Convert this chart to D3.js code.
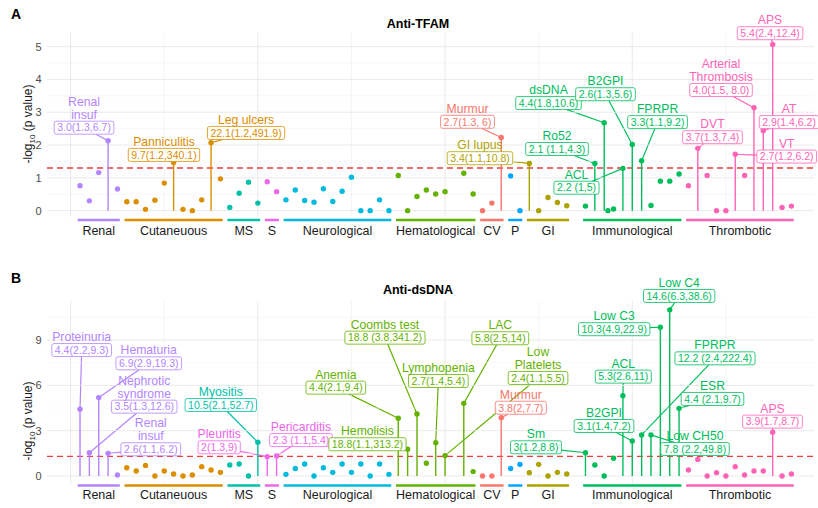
<!DOCTYPE html>
<html>
<head>
<meta charset="utf-8">
<script src="https://cdn.jsdelivr.net/npm/d3@7"></script>
<style>
body { margin: 0; background: #fff; }
svg { font-family: 'Liberation Sans', Arial, sans-serif; display: block; }
</style>
</head>
<body>
<svg></svg>
<script>
// categories along the x axis (index ranges of the variables in each group)
const categories = ['Renal', 'Cutaneuous', 'MS', 'S', 'Neurological', 'Hematological', 'CV', 'P', 'GI', 'Immunological', 'Thrombotic'];
const categoryFirst = [1, 6, 17, 21, 23, 35, 44, 47, 49, 55, 66];
const categoryLast = [5, 16, 20, 22, 34, 43, 46, 48, 53, 65, 77];
const categoryColors = ['#B385FF', '#DB8E00', '#00C1A7', '#EF67EB', '#00BADE', '#64B200', '#F8766D', '#00A6FF', '#AEA200', '#00BD5C', '#FF63B6'];

// -log10(p) for variables 1..77 (null = not tested)
const tfamValues = [
	0.76, 0.30, 1.16, 2.13, 0.66,
	0.27, 0.27, 0.04, 0.32, 0.84, 1.47, 0.04, 0.00, 0.33, 2.07, 0.97,
	0.10, 0.53, 0.87, 0.23,
	0.88, 0.58,
	0.33, 0.63, 0.31, 0.26, 0.67, 0.28, 0.59, 1.02, 0.00, 0.00, 0.33, 0.00,
	1.07, 0.00, 0.43, 0.63, 0.51, 0.58, null, 1.14, 0.51,
	0.00, 0.23, 2.23,
	1.06, 0.00,
	1.44, 0.00, 0.40, 0.25, 0.15,
	null,
	0.14, 1.44, 2.68, 0.05, 1.29, 2.02, 1.52, 0.16, 0.90, 0.90, 1.12,
	0.76, 1.90, 1.07, 0.00, 0.00, 1.72, 1.07, 3.14, 2.44, 5.07, 0.10, 0.14
];
const tfamExtraPoints = [[57.4, 0.00]];

const dsdnaValues = [
	4.42, 1.54, 5.19, 1.50, 0.07,
	0.55, 0.33, 0.70, 0.00, 0.33, 0.13, 0.00, 0.07, 0.62, 0.40, 0.24,
	0.73, 0.79, 0.00, 2.23,
	1.28, 1.32,
	0.11, 0.50, 0.79, 0.00, 0.55, 0.24, 0.79, 0.24, 0.79, 0.00, 0.79, 0.11,
	3.82, 1.77, 4.10, 0.84, 2.20, 1.35, null, 4.81, 0.29,
	0.00, 0.00, 3.86,
	0.50, 0.77,
	0.22, 0.77, 0.00, 0.24, 0.13,
	null,
	1.54, 0.73, 0.00, 1.17, 5.32, 2.32, 2.72, 2.72, 9.85, 11.0, 4.48,
	0.40, 1.10, 0.00, 0.22, 0.00, 0.62, 0.07, 0.33, 0.33, 2.90, 0.00, 0.13
];
const dsdnaExtraPoints = [];

// labelled (significant) variables
const tfamLabelIdx = [4, 11, 15, 46, 49, 56, 57, 59, 60, 61, 67, 71, 73, 74, 75];
const tfamLabelNames = ['Renal\ninsuf', 'Panniculitis', 'Leg ulcers', 'Murmur', 'GI lupus', 'Ro52', 'dsDNA', 'ACL', 'B2GPI', 'FPRPR', 'DVT', 'VT', 'Arterial\nThrombosis', 'AT', 'APS'];
const tfamLabelOR = ['3.0(1.3,6.7)', '9.7(1.2,340.1)', '22.1(1.2,491.9)', '2.7(1.3, 6)', '3.4(1.1,10.8)', '2.1 (1.1,4.3)', '4.4(1.8,10.6)', '2.2 (1,5)', '2.6(1.3,5.6)', '3.3(1.1,9.2)', '3.7(1.3,7.4)', '2.7(1.2,6.2)', '4.0(1.5, 8.0)', '2.9(1.4,6.2)', '5.4(2.4,12.4)'];
// repelled label placement, in data units [index, -log10 p]
const tfamLabelSpots = [[1.43, 2.53], [9.97, 1.70], [18.74, 2.37], [42.4, 2.71], [43.73, 1.60], [51.96, 1.88], [51.05, 3.28], [54.04, 0.70], [57.14, 3.55], [62.70, 2.70], [68.57, 2.24], [76.5, 1.65], [69.48, 3.68], [76.75, 2.70], [74.72, 5.41]];

const dsdnaLabelIdx = [1, 3, 2, 4, 20, 21, 22, 35, 36, 37, 39, 42, 40, 46, 55, 60, 59, 63, 64, 61, 65, 62, 75];
const dsdnaLabelNames = ['Proteinuria', 'Hematuria', 'Nephrotic\nsyndrome', 'Renal\ninsuf', 'Myositis', 'Pleuritis', 'Pericarditis', 'Anemia', 'Hemolisis', 'Coombs test', 'Lymphopenia', 'LAC', 'Low\nPlatelets', 'Murmur', 'Sm', 'B2GPI', 'ACL', 'Low C3', 'Low C4', 'FPRPR', 'ESR', 'Low CH50', 'APS'];
const dsdnaLabelOR = ['4.4(2.2,9.3)', '6.9(2.9,19.3)', '3.5(1.3,12.6)', '2.6(1.1,6.2)', '10.5(2.1,52.7)', '2(1.3,9)', '2.3 (1.1,5.4)', '4.4(2.1,9.4)', '18.8(1.1,313.2)', '18.8 (3.8,341.2)', '2.7(1.4,5.4)', '5.8(2.5,14)', '2.4(1.1,5.5)', '3.8(2,7.7)', '3(1.2,8.8)', '3.1(1.4,7.2)', '5.3(2.6,11)', '10.3(4.9,22.9)', '14.6(6.3,38.6)', '12.2 (2.4,222.4)', '4.4 (2.1,9.7)', '7.8 (2.2,49.8)', '3.9(1.7,8.7)'];
const dsdnaLabelSpots = [[1.18, 8.34], [8.34, 7.46], [7.86, 4.59], [8.56, 1.77], [16.04, 4.70], [15.87, 1.90], [24.61, 2.38], [28.33, 5.85], [31.71, 2.10], [33.58, 9.16], [39.28, 6.29], [45.90, 9.12], [49.93, 6.49], [48.09, 4.52], [49.71, 1.90], [56.98, 3.31], [59.04, 6.58], [58.07, 9.72], [65.01, 11.92], [68.84, 7.79], [68.57, 5.10], [66.70, 1.79], [74.98, 3.60]];

const threshold = -Math.log10(0.05);

const width = 818;
const height = 508;
const panelLeft = 47;
const panelRight = 814;
const pointRadius = 2.7;
const boxHeight = 13;
const boxPadX = 3;
const nameSize = 12.2;
const nameLineHeight = 13;

const svg = d3.select('svg')
	.attr('width', width)
	.attr('height', height);

const xScale = d3.scaleLinear()
	.domain([0, 77])
	.range([70.65, 791.4]);

const panels = [
	{
		letter: 'A', letterY: 18.5, title: 'Anti-TFAM', titleY: 27.5,
		yDomain: [-0.19, 5.42], yRange: [216.9, 32.9], ticks: [0, 1, 2, 3, 4, 5], minor: [0.5, 1.5, 2.5, 3.5, 4.5],
		yTitleY: 124, groupLineY: 220, groupTextY: 234.5,
		values: tfamValues, extra: tfamExtraPoints,
		labelIdx: tfamLabelIdx, labelNames: tfamLabelNames, labelOR: tfamLabelOR, labelSpots: tfamLabelSpots
	},
	{
		letter: 'B', letterY: 282.5, title: 'Anti-dsDNA', titleY: 293.5,
		yDomain: [-0.55, 11.6], yRange: [484.3, 300.8], ticks: [0, 3, 6, 9], minor: [1.5, 4.5, 7.5, 10.5],
		yTitleY: 421, groupLineY: 485.5, groupTextY: 498.5,
		values: dsdnaValues, extra: dsdnaExtraPoints,
		labelIdx: dsdnaLabelIdx, labelNames: dsdnaLabelNames, labelOR: dsdnaLabelOR, labelSpots: dsdnaLabelSpots
	}
];

function categoryOf(i) {
	return categories.findIndex((c, k) => i >= categoryFirst[k] - 0.5 && i <= categoryLast[k] + 0.5);
}
function colorOf(i) {
	const k = categoryOf(i);
	return k < 0 ? '#999' : categoryColors[k];
}
function boxEdge(cx, cy, hw, hh, px, py) {
	const dx = px - cx;
	const dy = py - cy;
	const tx = dx !== 0 ? hw / Math.abs(dx) : Infinity;
	const ty = dy !== 0 ? hh / Math.abs(dy) : Infinity;
	const t = Math.min(tx, ty, 1);
	return [cx + dx * t, cy + dy * t];
}

panels.forEach(p => drawPanel(p));

function drawPanel(p) {
	const yScale = d3.scaleLinear().domain(p.yDomain).range(p.yRange);
	const g = svg.append('g');

	// grid
	const grid = g.append('g');
	grid.selectAll('line.hminor').data(p.minor).enter().append('line')
		.attr('x1', panelLeft).attr('x2', panelRight)
		.attr('y1', d => yScale(d)).attr('y2', d => yScale(d))
		.attr('stroke', '#f3f3f3').attr('stroke-width', 0.6);
	grid.selectAll('line.hmajor').data(p.ticks).enter().append('line')
		.attr('x1', panelLeft).attr('x2', panelRight)
		.attr('y1', d => yScale(d)).attr('y2', d => yScale(d))
		.attr('stroke', '#e8e8e8').attr('stroke-width', 0.9);
	grid.selectAll('line.v').data(d3.range(0, 80, 10)).enter().append('line')
		.attr('x1', d => xScale(d)).attr('x2', d => xScale(d))
		.attr('y1', p.yRange[1]).attr('y2', p.yRange[0])
		.attr('stroke', d => d % 20 === 0 ? '#e8e8e8' : '#f0f0f0')
		.attr('stroke-width', d => d % 20 === 0 ? 0.9 : 0.7);

	// y axis
	g.selectAll('text.tick').data(p.ticks).enter().append('text')
		.attr('x', 41.5).attr('y', d => yScale(d))
		.attr('dy', '0.35em')
		.attr('text-anchor', 'end')
		.attr('font-size', 11)
		.attr('fill', '#4d4d4d')
		.text(d => d);

	const yTitle = g.append('text')
		.attr('transform', `translate(32,${p.yTitleY}) rotate(-90)`)
		.attr('text-anchor', 'middle')
		.attr('font-size', 12)
		.attr('fill', '#1a1a1a');
	yTitle.append('tspan').text('-log');
	yTitle.append('tspan').attr('font-size', 8).attr('dy', 3).text('10');
	yTitle.append('tspan').attr('dy', -3).text(' (p value)');

	// titles
	g.append('text')
		.attr('x', 11).attr('y', p.letterY)
		.attr('font-size', 14).attr('font-weight', 'bold')
		.text(p.letter);
	g.append('text')
		.attr('x', 418).attr('y', p.titleY)
		.attr('text-anchor', 'middle')
		.attr('font-size', 12.5).attr('font-weight', 'bold')
		.text(p.title);

	// significance line
	g.append('line')
		.attr('x1', panelLeft).attr('x2', panelRight)
		.attr('y1', yScale(threshold)).attr('y2', yScale(threshold))
		.attr('stroke', '#f03c3c').attr('stroke-width', 1.3)
		.attr('stroke-dasharray', '6,4');

	const points = p.values
		.map((v, k) => ({ i: k + 1, v: v }))
		.filter(d => d.v !== null)
		.concat(p.extra.map(e => ({ i: e[0], v: e[1], c: colorOf(Math.round(e[0])) })));

	const labels = p.labelIdx.map((idx, k) => ({
		i: idx,
		v: p.values[idx - 1],
		name: p.labelNames[k],
		or: p.labelOR[k],
		lx: p.labelSpots[k][0],
		ly: p.labelSpots[k][1],
		color: colorOf(idx)
	}));

	// stems
	g.selectAll('line.stem').data(labels).enter().append('line')
		.attr('x1', d => xScale(d.i)).attr('x2', d => xScale(d.i))
		.attr('y1', d => yScale(d.v)).attr('y2', yScale(0))
		.attr('stroke', d => d.color).attr('stroke-width', 1.4);

	// label boxes: measure text first
	const labelG = g.selectAll('g.label').data(labels).enter().append('g');
	const orText = labelG.append('text')
		.attr('x', d => xScale(d.lx))
		.attr('y', d => yScale(d.ly))
		.attr('dy', '0.36em')
		.attr('text-anchor', 'middle')
		.attr('font-size', 10.5)
		.attr('fill', d => d.color)
		.text(d => d.or);
	orText.each(function(d) { d.w = this.getComputedTextLength() + 2 * boxPadX; });

	// segments from box to point
	g.selectAll('line.seg').data(labels).enter().insert('line', 'g')
		.each(function(d) {
			const cx = xScale(d.lx);
			const cy = yScale(d.ly);
			const px = xScale(d.i);
			const py = yScale(d.v);
			const e = boxEdge(cx, cy, d.w / 2, boxHeight / 2, px, py);
			d3.select(this)
				.attr('x1', e[0]).attr('y1', e[1])
				.attr('x2', px).attr('y2', py);
		})
		.attr('stroke', d => d.color).attr('stroke-width', 1.2);

	// points
	g.selectAll('circle.pt').data(points).enter().append('circle')
		.attr('cx', d => xScale(d.i))
		.attr('cy', d => yScale(d.v))
		.attr('r', pointRadius)
		.attr('fill', d => d.c || colorOf(d.i));

	labelG.insert('rect', 'text')
		.attr('x', d => xScale(d.lx) - d.w / 2)
		.attr('y', d => yScale(d.ly) - boxHeight / 2)
		.attr('width', d => d.w)
		.attr('height', boxHeight)
		.attr('rx', 2)
		.attr('fill', '#fff')
		.attr('stroke', d => d.color)
		.attr('stroke-width', 0.8);
	labelG.raise();

	labelG.append('text')
		.attr('text-anchor', 'middle')
		.attr('font-size', nameSize)
		.attr('fill', d => d.color)
		.each(function(d) {
			const lines = d.name.split('\n');
			const baseY = yScale(d.ly) - boxHeight / 2 - 2.5 - (lines.length - 1) * nameLineHeight;
			d3.select(this).selectAll('tspan').data(lines).enter().append('tspan')
				.attr('x', xScale(d.lx))
				.attr('y', (l, j) => baseY + j * nameLineHeight)
				.text(l => l);
		});

	// category bars and names
	g.selectAll('line.cat').data(categories).enter().append('line')
		.attr('x1', (c, k) => xScale(categoryFirst[k] - 0.25))
		.attr('x2', (c, k) => xScale(categoryLast[k] + 0.25))
		.attr('y1', p.groupLineY).attr('y2', p.groupLineY)
		.attr('stroke', (c, k) => categoryColors[k])
		.attr('stroke-width', 2.5);
	g.selectAll('text.cat').data(categories).enter().append('text')
		.attr('x', (c, k) => xScale((categoryFirst[k] + categoryLast[k]) / 2))
		.attr('y', p.groupTextY)
		.attr('text-anchor', 'middle')
		.attr('font-size', 12.5)
		.attr('fill', '#1a1a1a')
		.text(c => c);
}
</script>
</body>
</html>
